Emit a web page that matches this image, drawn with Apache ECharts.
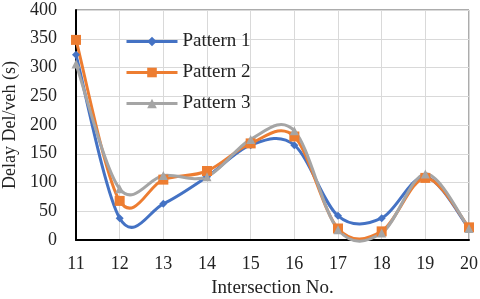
<!DOCTYPE html>
<html><head><meta charset="utf-8">
<script src="https://cdn.jsdelivr.net/npm/echarts@6/dist/echarts.min.js"></script>
<style>html,body{margin:0;padding:0;background:#fff}#c{width:480px;height:299px}</style>
</head><body><div id="c"></div>
<script>
const categories = [11, 12, 13, 14, 15, 16, 17, 18, 19, 20];
const pattern1 = [322, 38, 63, 110, 165, 165, 42, 38, 110, 20];
const pattern2 = [348, 68, 105, 120, 168, 180, 20, 15, 108, 22];
const pattern3 = [306, 89, 112, 110, 175, 190, 18, 12, 115, 20];
const yTicks = [0, 50, 100, 150, 200, 250, 300, 350, 400];
const seriesNames = ['Pattern 1', 'Pattern 2', 'Pattern 3'];
const colors = ['#4472C4', '#ED7D31', '#A5A5A5'];

const font = '"Liberation Serif","Times New Roman",serif';
function mk(vals){ return categories.map((c,i)=>[c, vals[i]]); }

// Smooth curve (Catmull-Rom style, like spreadsheet smoothing), positioned via the chart's own axes
function curveSeries(vals, color, z){
  return {
    type: 'custom', coordinateSystem: 'cartesian2d', z: z, silent: true,
    data: mk(vals),
    encode: {x: 0, y: 1},
    renderItem: function(params, api){
      const i = params.dataIndex;
      if (i >= categories.length - 1) return null;
      const P = j => api.coord([categories[Math.max(0, Math.min(categories.length - 1, j))],
                                vals[Math.max(0, Math.min(categories.length - 1, j))]]);
      const p0 = P(i - 1), p1 = P(i), p2 = P(i + 1), p3 = P(i + 2);
      return {
        type: 'bezierCurve',
        shape: {
          x1: p1[0], y1: p1[1], x2: p2[0], y2: p2[1],
          cpx1: p1[0] + (p2[0] - p0[0]) / 6, cpy1: p1[1] + (p2[1] - p0[1]) / 6,
          cpx2: p2[0] - (p3[0] - p1[0]) / 6, cpy2: p2[1] - (p3[1] - p1[1]) / 6
        },
        style: {stroke: color, lineWidth: 3, fill: null, lineCap: 'round'}
      };
    }
  };
}
function markerSeries(name, vals, color, symbol, size, z){
  return {
    name: name, type: 'line', data: mk(vals), symbol: symbol, symbolSize: size, z: z,
    itemStyle: {color: color}, lineStyle: {width: 3, color: color, opacity: 0}
  };
}

const chart = echarts.init(document.getElementById('c'));
chart.setOption({
  animation: false,
  grid: {left: 76, right: 11, top: 10, bottom: 59, show: true, borderColor: '#595959', borderWidth: 1,
         containLabel: false, outerBoundsMode: 'none'},
  legend: {
    left: 120, top: 27, orient: 'vertical', itemGap: 12, itemWidth: 51, itemHeight: 12,
    textStyle: {fontFamily: font, fontSize: 19, color: '#222'},
    data: seriesNames.map((n, k) => ({name: n, lineStyle: {opacity: 1, width: 3, color: colors[k]}}))
  },
  xAxis: {
    type: 'value', min: 11, max: 20, interval: 1,
    name: 'Intersection No.', nameLocation: 'middle', nameGap: 39,
    nameTextStyle: {fontFamily: font, fontSize: 19, color: '#222'},
    axisLine: {show: true, lineStyle: {color: '#000', width: 2}},
    axisTick: {show: false},
    axisLabel: {fontFamily: font, fontSize: 18, color: '#222', margin: 15},
    splitLine: {show: true, lineStyle: {color: '#d9d9d9', width: 1}}
  },
  yAxis: {
    type: 'value', min: yTicks[0], max: yTicks[yTicks.length - 1], interval: yTicks[1] - yTicks[0],
    name: 'Delay Del/veh (s)', nameLocation: 'middle', nameGap: 56,
    nameTextStyle: {fontFamily: font, fontSize: 18, color: '#222'},
    axisLine: {show: true, lineStyle: {color: '#000', width: 2}},
    axisTick: {show: false},
    axisLabel: {fontFamily: font, fontSize: 18, color: '#222', margin: 19},
    splitLine: {show: true, lineStyle: {color: '#d9d9d9', width: 1}}
  },
  series: [
    curveSeries(pattern1, colors[0], 3),
    curveSeries(pattern2, colors[1], 4),
    curveSeries(pattern3, colors[2], 5),
    markerSeries(seriesNames[0], pattern1, colors[0], 'diamond', 8, 6),
    markerSeries(seriesNames[1], pattern2, colors[1], 'rect', 10, 7),
    markerSeries(seriesNames[2], pattern3, colors[2], 'triangle', 9, 8)
  ]
});
</script></body></html>
